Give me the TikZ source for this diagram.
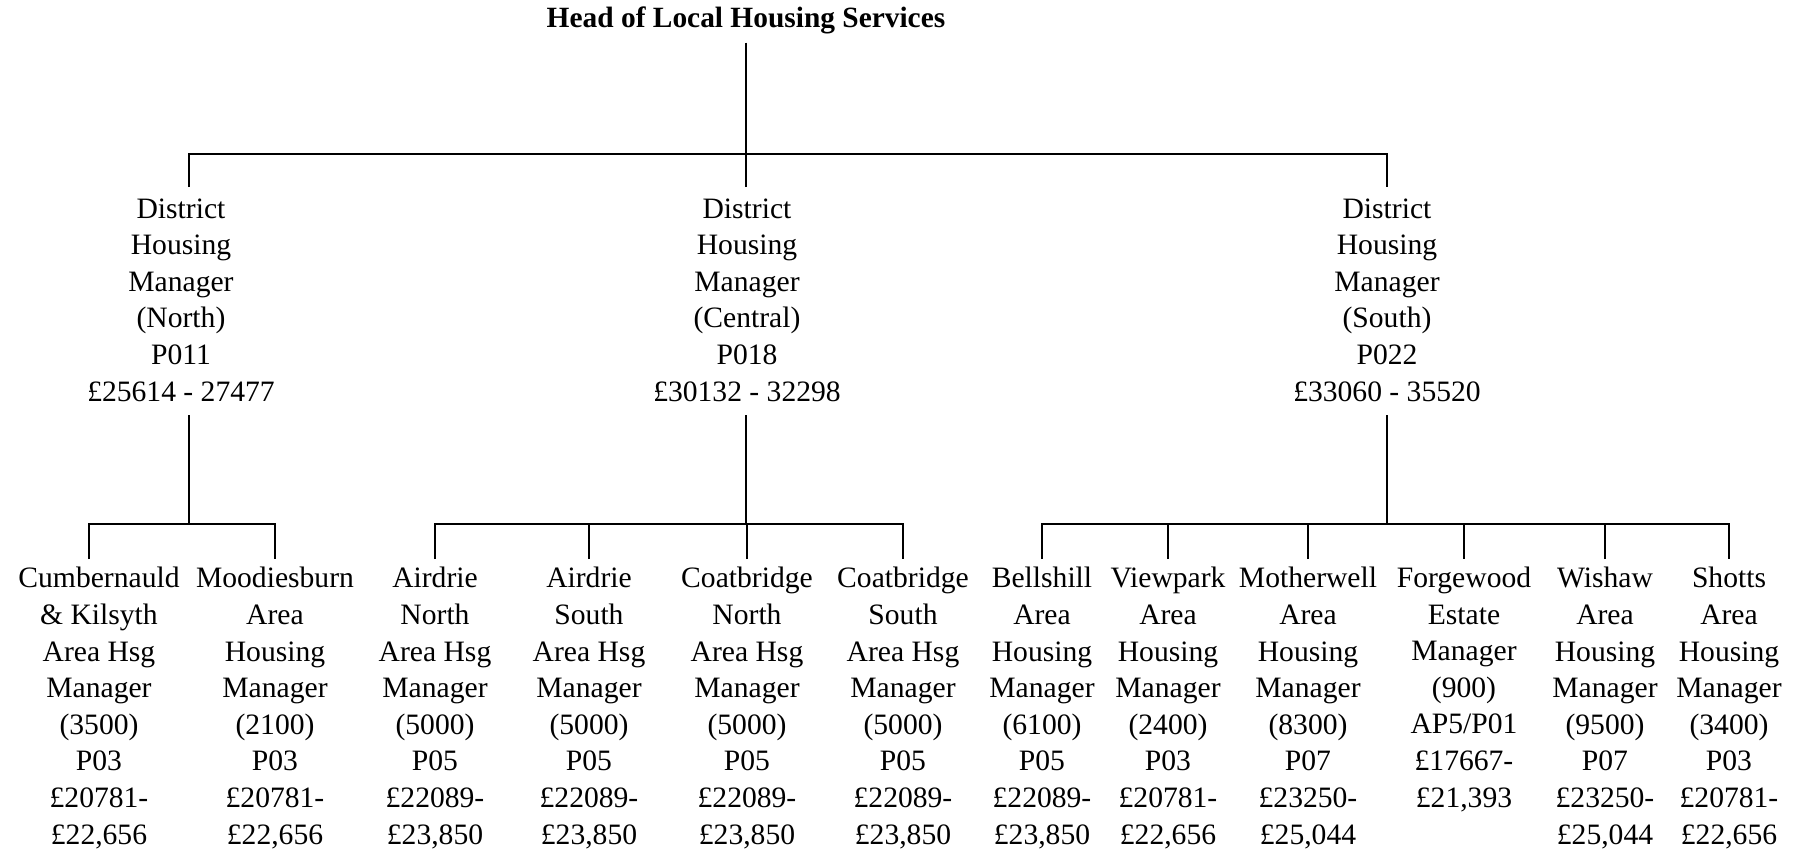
\documentclass[tikz,border=0pt]{standalone}
\usepackage{fontspec}
\setmainfont{Liberation Serif}
\begin{document}
\begin{tikzpicture}[x=0.5pt,y=-0.5pt,line width=1.2pt]
\useasboundingbox (0,0) rectangle (1794,852);

        % base = baseline of the last line of each node
        \begin{scope}[every node/.style={align=center, anchor=base, inner sep=0pt, font=\fontsize{14.8}{18.3}\selectfont}]
          \node[font=\bfseries\fontsize{14.7}{18.3}\selectfont] (0) at (746,27) {Head of Local Housing Services};
          \node (1)  at (181,401)  {District\\Housing\\Manager\\(North)\\P011\\£25614 - 27477};
          \node (2)  at (747,401)  {District\\Housing\\Manager\\(Central)\\P018\\£30132 - 32298};
          \node (3)  at (1387,401) {District\\Housing\\Manager\\(South)\\P022\\£33060 - 35520};
          \node (4)  at (99,844)   {Cumbernauld\\\& Kilsyth\\Area Hsg\\Manager\\(3500)\\P03\\£20781-\\£22,656};
          \node (5)  at (275,844)  {Moodiesburn\\Area\\Housing\\Manager\\(2100)\\P03\\£20781-\\£22,656};
          \node (6)  at (435,844)  {Airdrie\\North\\Area Hsg\\Manager\\(5000)\\P05\\£22089-\\£23,850};
          \node (7)  at (589,844)  {Airdrie\\South\\Area Hsg\\Manager\\(5000)\\P05\\£22089-\\£23,850};
          \node (8)  at (747,844)  {Coatbridge\\North\\Area Hsg\\Manager\\(5000)\\P05\\£22089-\\£23,850};
          \node (9)  at (903,844)  {Coatbridge\\South\\Area Hsg\\Manager\\(5000)\\P05\\£22089-\\£23,850};
          \node (10) at (1042,844) {Bellshill\\Area\\Housing\\Manager\\(6100)\\P05\\£22089-\\£23,850};
          \node (11) at (1168,844) {Viewpark\\Area\\Housing\\Manager\\(2400)\\P03\\£20781-\\£22,656};
          \node (12) at (1308,844) {Motherwell\\Area\\Housing\\Manager\\(8300)\\P07\\£23250-\\£25,044};
          \node (13) at (1464,807) {Forgewood\\Estate\\Manager\\(900)\\AP5/P01\\£17667-\\£21,393};
          \node (14) at (1605,844) {Wishaw\\Area\\Housing\\Manager\\(9500)\\P07\\£23250-\\£25,044};
          \node (15) at (1729,844) {Shotts\\Area\\Housing\\Manager\\(3400)\\P03\\£20781-\\£22,656};
        \end{scope}

        % junctions of the bars
        \coordinate (t) at (746,154);
        \coordinate (n) at (189,524);
        \coordinate (c) at (746,524);
        \coordinate (s) at (1387,524);

        \draw ([yshift=-4pt]0.south) -- (t);
        \draw ([xshift=4pt,yshift=5pt]1.north) |- (t) -| ([yshift=5pt]3.north);
        \draw ([yshift=5pt]2.north -| t) -- (t);

        \draw ([xshift=4pt,yshift=-6.5pt]1.south) -- (n);
        \draw ([yshift=-6.5pt]2.south -| c) -- (c);
        \draw ([yshift=-6.5pt]3.south) -- (s);

        \draw ([xshift=-5pt,yshift=3.5pt]4.north) |- (n) -| ([yshift=3.5pt]5.north);
        \draw ([yshift=3.5pt]6.north) |- (c) -| ([yshift=3.5pt]9.north);
        \draw ([yshift=3.5pt]7.north) -- (7.north |- c);
        \draw ([yshift=3.5pt]8.north) -- (8.north |- c);
        \draw ([yshift=3.5pt]10.north) |- (s) -| ([yshift=3.5pt]15.north);
        \foreach \i in {11,...,14}
          \draw ([yshift=3.5pt]\i.north) -- (\i.north |- s);

      \end{tikzpicture}
\end{document}
